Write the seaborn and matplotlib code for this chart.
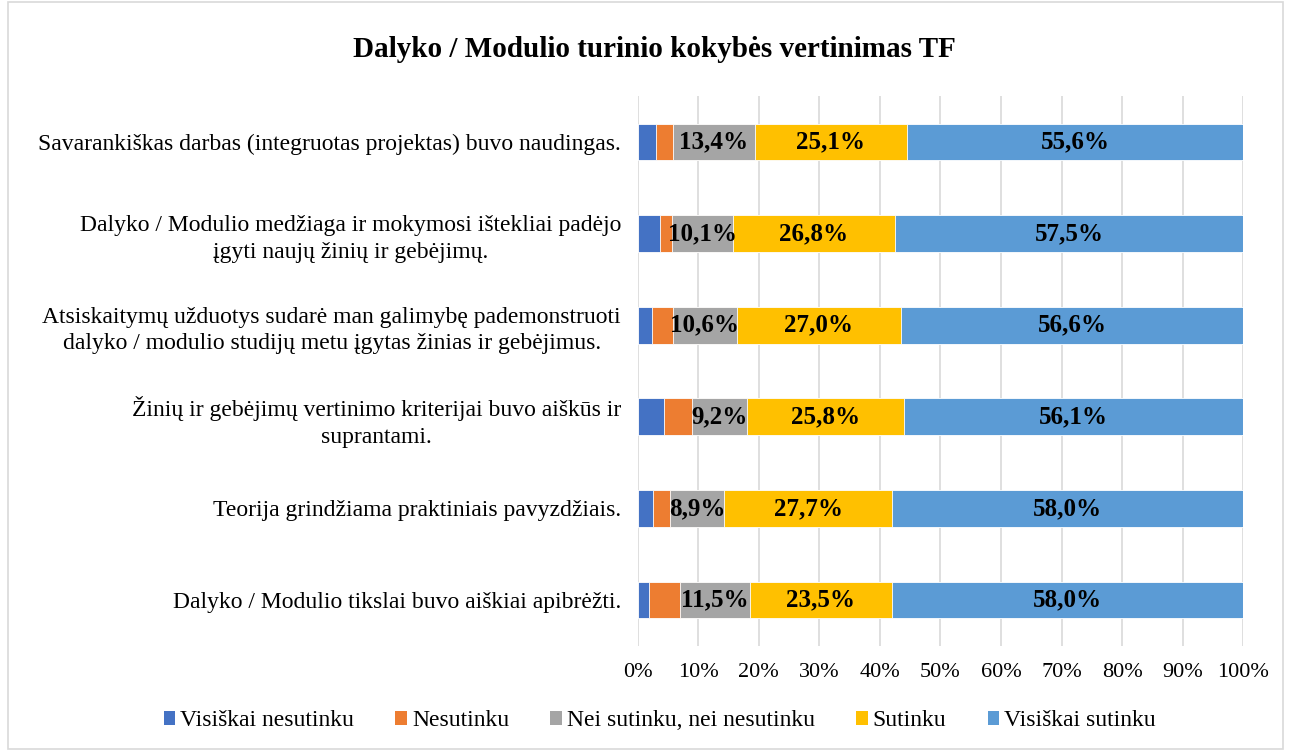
import matplotlib
matplotlib.use("Agg")
import matplotlib.pyplot as plt
import seaborn as sns
import pandas as pd
import numpy as np
from matplotlib.patches import Rectangle, Patch

categories = [
    "Savarankiškas darbas (integruotas projektas) buvo naudingas.",
    "Dalyko / Modulio medžiaga ir mokymosi ištekliai padėjo\nįgyti naujų žinių ir gebėjimų.",
    "Atsiskaitymų užduotys sudarė man galimybę pademonstruoti\ndalyko / modulio studijų metu įgytas žinias ir gebėjimus.",
    "Žinių ir gebėjimų vertinimo kriterijai buvo aiškūs ir\nsuprantami.",
    "Teorija grindžiama praktiniais pavyzdžiais.",
    "Dalyko / Modulio tikslai buvo aiškiai apibrėžti.",
]
series_names = ["Visiškai nesutinku", "Nesutinku", "Nei sutinku, nei nesutinku",
                "Sutinku", "Visiškai sutinku"]
visiskai_nesutinku = [3.0, 3.6, 2.4, 4.3, 2.5, 1.9]
nesutinku = [2.9, 2.0, 3.4, 4.6, 2.9, 5.1]
nei = [13.4, 10.1, 10.6, 9.2, 8.9, 11.5]
sutinku = [25.1, 26.8, 27.0, 25.8, 27.7, 23.5]
visiskai_sutinku = [55.6, 57.5, 56.6, 56.1, 58.0, 58.0]
tick_values = [0, 10, 20, 30, 40, 50, 60, 70, 80, 90, 100]
colors = ["#4472C4", "#ED7D31", "#A5A5A5", "#FFC000", "#5B9BD5"]
labelled = [False, False, True, True, True]

sns.set_theme(style="white")
plt.rcParams["font.family"] = ["Liberation Serif", "DejaVu Serif"]
plt.rcParams["text.color"] = "black"
plt.rcParams["xtick.color"] = "black"
plt.rcParams["ytick.color"] = "black"

series = [visiskai_nesutinku, nesutinku, nei, sutinku, visiskai_sutinku]
vals = np.array(series)  # shape (5, 6)
cum = np.cumsum(vals, axis=0)

fig = plt.figure(figsize=(12.91, 7.51), dpi=100)
ax = fig.add_axes([0.494, 0.140, 0.469, 0.732])

# draw cumulative bars from largest to smallest so segments stack
for i in range(len(series) - 1, -1, -1):
    df = pd.DataFrame({"cat": categories, "val": cum[i]})
    sns.barplot(data=df, x="val", y="cat", order=categories, orient="h",
                color=colors[i], width=0.4, saturation=1, ax=ax,
                edgecolor="white", linewidth=0.6, zorder=2)

for i in range(len(series)):
    if not labelled[i]:
        continue
    for j in range(len(categories)):
        center = cum[i][j] - vals[i][j] / 2
        ax.text(center, j, f"{vals[i][j]:.1f}%".replace(".", ","),
                ha="center", va="center", fontsize=18, fontweight="bold",
                color="black", zorder=5)

ax.set_xlim(0, 100)
ax.set_ylim(len(categories) - 0.5, -0.5)
ax.set_xticks(tick_values)
ax.set_xticklabels([f"{v}%" for v in tick_values], fontsize=16)
ax.tick_params(axis="x", length=0, pad=12, colors="black")
ax.tick_params(axis="y", length=0, pad=12, colors="black")
ax.set_yticks(range(len(categories)))
ax.set_yticklabels(categories, fontsize=17, ha="right", multialignment="center", linespacing=1.35)
ax.set_xlabel("")
ax.set_ylabel("")
ax.grid(axis="x", color="#D9D9D9", linewidth=1.2, zorder=0)
ax.set_axisbelow(True)
for s in ax.spines.values():
    s.set_visible(False)

fig.suptitle("Dalyko / Modulio turinio kokybės vertinimas TF", fontsize=21,
             fontweight="bold", x=0.507, y=0.952, color="black")

handles = [Patch(facecolor=c, edgecolor="none") for c in colors]
fig.legend(handles, series_names, loc="center", bbox_to_anchor=(0.511, 0.04),
           ncol=5, frameon=False, fontsize=17, handlelength=0.5, handleheight=0.5,
           handletextpad=0.2, columnspacing=1.75)

fig.patches.append(Rectangle((0.006, 0.003), 0.988, 0.994, transform=fig.transFigure,
                             fill=False, edgecolor="#D9D9D9", linewidth=1.2))

fig.savefig("out.png", dpi=100)
